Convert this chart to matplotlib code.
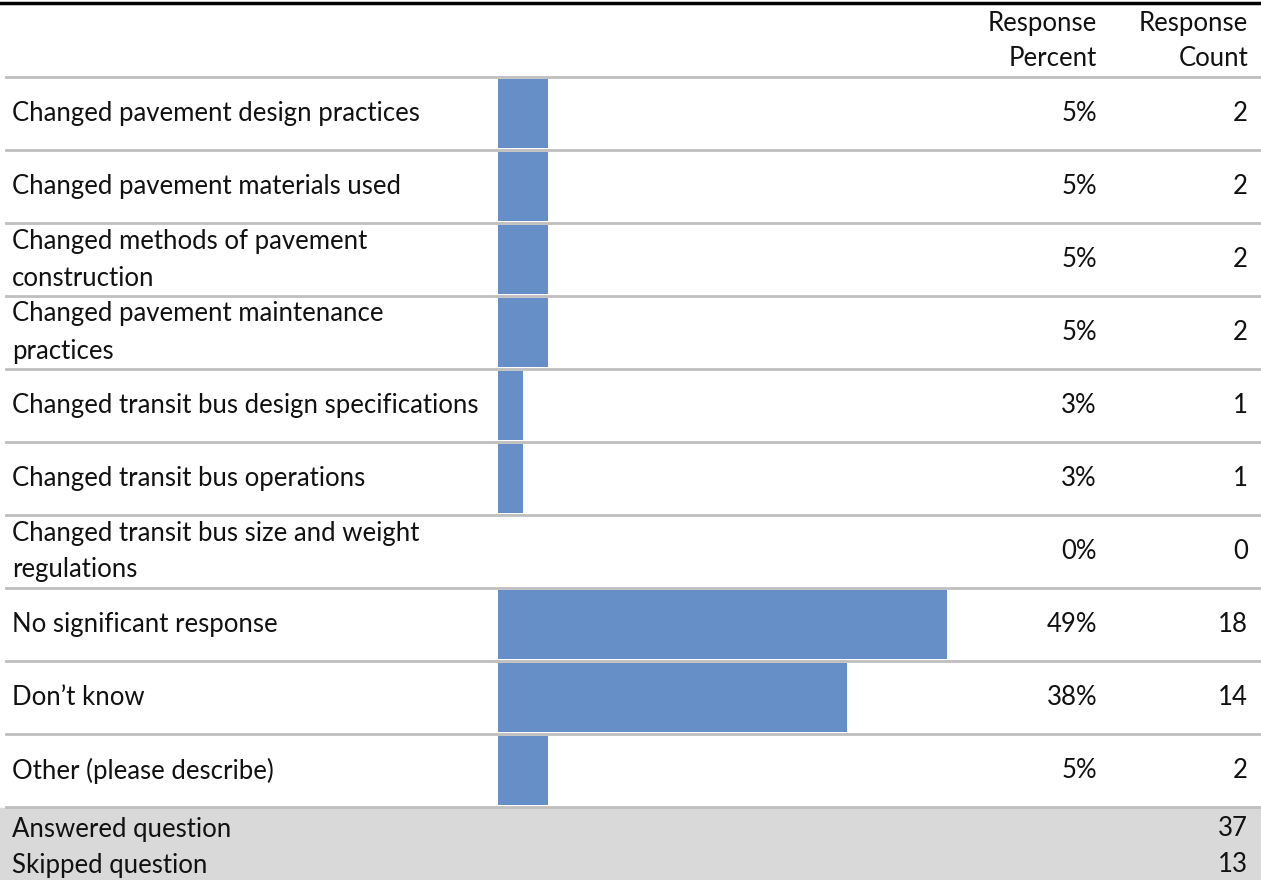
import matplotlib.pyplot as plt
from matplotlib.patches import Rectangle

plt.rcParams['font.family'] = ['Lato', 'DejaVu Sans']

labels = ['Changed pavement design practices',
          'Changed pavement materials used',
          'Changed methods of pavement\nconstruction',
          'Changed pavement maintenance\npractices',
          'Changed transit bus design specifications',
          'Changed transit bus operations',
          'Changed transit bus size and weight\nregulations',
          'No significant response',
          'Don\u2019t know',
          'Other (please describe)']
percents = [5.4, 5.4, 5.4, 5.4, 2.7, 2.7, 0.0, 48.6, 37.8, 5.4]
pct_text = ['5%', '5%', '5%', '5%', '3%', '3%', '0%', '49%', '38%', '5%']
counts = [2, 2, 2, 2, 1, 1, 0, 18, 14, 2]
answered = 37
skipped = 13

W, H = 1261, 880
fig = plt.figure(figsize=(W / 100, H / 100), dpi=100)

# background axes in pixel coordinates
ax = fig.add_axes([0, 0, 1, 1])
ax.set_xlim(0, W)
ax.set_ylim(H, 0)
ax.axis('off')

top = 77
row_h = 73
n = len(labels)
fs = 18.5
txt_color = '#111111'

# top rule
ax.plot([0, W], [3, 3], color='black', lw=2.5)

# header
ax.text(1097, 23, 'Response', ha='right', va='center', fontsize=fs, color=txt_color)
ax.text(1097, 59, 'Percent', ha='right', va='center', fontsize=fs, color=txt_color)
ax.text(1248, 23, 'Response', ha='right', va='center', fontsize=fs, color=txt_color)
ax.text(1248, 59, 'Count', ha='right', va='center', fontsize=fs, color=txt_color)

# row lines and text
for i in range(n + 1):
    y = top + i * row_h
    ax.plot([6, W], [y, y], color='#bfbfbf', lw=2, zorder=1)
for i in range(n):
    yc = top + i * row_h + row_h / 2
    ax.text(12, yc, labels[i], ha='left', va='center', fontsize=fs,
            color=txt_color, linespacing=1.6)
    ax.text(1097, yc, pct_text[i], ha='right', va='center', fontsize=fs, color=txt_color)
    ax.text(1248, yc, str(counts[i]), ha='right', va='center', fontsize=fs, color=txt_color)

# footer
foot = top + n * row_h + 1
ax.add_patch(Rectangle((0, foot), W, H - foot, color='#d9d9d9', zorder=0))
ax.text(12, 829, 'Answered question', ha='left', va='center', fontsize=fs, color=txt_color)
ax.text(12, 865, 'Skipped question', ha='left', va='center', fontsize=fs, color=txt_color)
ax.text(1248, 829, str(answered), ha='right', va='center', fontsize=fs, color=txt_color)
ax.text(1248, 865, str(skipped), ha='right', va='center', fontsize=fs, color=txt_color)

# bar axes
bx0 = 498
scale = 923  # pixels per 100%
bax = fig.add_axes([bx0 / W, (H - (top + n * row_h)) / H, (W - bx0) / W, n * row_h / H])
bax.barh(range(n), percents, height=0.95, color='#658fc6')
bax.set_xlim(0, (W - bx0) / scale * 100)
bax.set_ylim(n - 0.5, -0.5)
bax.axis('off')
bax.patch.set_alpha(0)

fig.savefig('out.png', dpi=100)
